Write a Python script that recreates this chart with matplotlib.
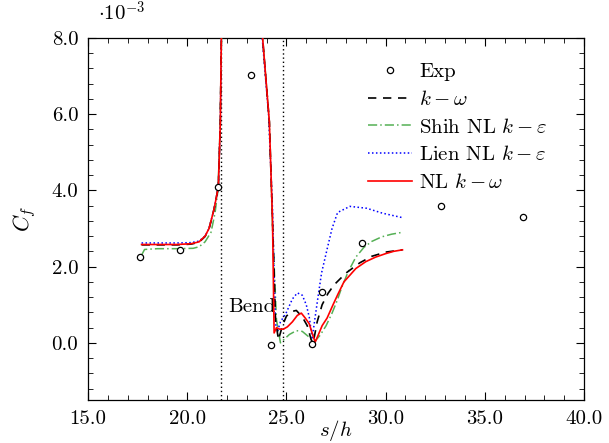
import matplotlib
matplotlib.use("Agg")
import matplotlib.pyplot as plt
from matplotlib.ticker import MultipleLocator, FormatStrFormatter

plt.rcParams["font.family"] = "serif"
plt.rcParams["font.serif"] = ["cmr10", "DejaVu Serif"]
plt.rcParams["mathtext.fontset"] = "cm"
plt.rcParams["axes.unicode_minus"] = False

# Skin-friction coefficient along the wall (values in units of 1e-3)
exp_s = [17.63, 19.65, 21.57, 23.23, 24.24, 26.30, 26.80, 28.80, 32.80, 36.90]
exp_cf = [2.25, 2.43, 4.08, 7.03, -0.05, -0.03, 1.33, 2.61, 3.58, 3.29]

kw_s = [17.7, 18.5, 19.5, 20.2, 20.6, 20.9, 21.1, 21.35, 21.5, 21.57, 21.67, 21.72, 21.8,
        22.8, 23.7, 23.8, 24.14, 24.3, 24.45, 24.6, 24.8, 25.0, 25.25, 25.5, 25.8, 26.05,
        26.25, 26.35, 26.55, 26.8, 27.1, 27.4, 28.0, 28.7, 29.3, 30.0, 30.85]
kw_cf = [2.57, 2.57, 2.57, 2.59, 2.64, 2.79, 2.99, 3.5, 3.9, 4.1, 5.8, 8.0, 10.5,
         12.0, 9.0, 8.0, 5.8, 3.2, 0.6, 0.08, 0.45, 0.7, 0.82, 0.85, 0.68, 0.45,
         0.08, 0.0, 0.55, 1.0, 1.3, 1.52, 1.83, 2.1, 2.27, 2.38, 2.44]

shih_s = [17.7, 17.85, 18.5, 19.5, 20.3, 20.6, 20.9, 21.2, 21.4, 21.55, 21.65, 21.73, 21.82,
          22.8, 23.7, 23.8, 24.14, 24.3, 24.5, 24.7, 24.9, 25.15, 25.5, 25.8, 26.1, 26.4,
          26.7, 27.0, 27.3, 27.55, 27.8, 28.1, 28.5, 28.9, 29.3, 29.8, 30.3, 30.85]
shih_cf = [2.3, 2.45, 2.47, 2.47, 2.48, 2.52, 2.65, 2.9, 3.4, 4.0, 5.5, 8.0, 10.5,
           12.0, 9.0, 8.0, 5.8, 3.0, 0.6, 0.0, 0.1, 0.22, 0.32, 0.3, 0.17, 0.02,
           0.2, 0.45, 0.78, 1.1, 1.47, 1.85, 2.25, 2.5, 2.66, 2.78, 2.85, 2.9]

lien_s = [17.7, 18.5, 19.5, 20.2, 20.6, 20.9, 21.1, 21.35, 21.5, 21.57, 21.67, 21.72, 21.8,
          22.8, 23.65, 23.78, 24.1, 24.3, 24.45, 24.55, 24.7, 25.0, 25.3, 25.55, 25.8,
          26.0, 26.15, 26.3, 26.55, 26.77, 27.07, 27.3, 27.58, 28.2, 29.05, 29.85, 30.8]
lien_cf = [2.62, 2.62, 2.62, 2.63, 2.67, 2.8, 3.0, 3.5, 3.9, 4.1, 5.8, 8.0, 10.5,
           12.0, 9.0, 8.0, 6.0, 3.5, 0.5, 0.3, 0.55, 0.8, 1.15, 1.31, 1.25,
           1.0, 0.68, 0.13, 1.05, 1.83, 2.5, 3.0, 3.42, 3.58, 3.53, 3.4, 3.29]

nl_s = [17.7, 18.5, 19.5, 20.2, 20.6, 20.9, 21.1, 21.35, 21.5, 21.57, 21.67, 21.72, 21.8,
        22.8, 23.7, 23.8, 24.14, 24.3, 24.38, 24.5, 24.65, 24.85, 25.05, 25.3, 25.55, 25.75,
        25.95, 26.15, 26.3, 26.45, 26.6, 26.8, 27.05, 27.35, 27.6, 27.9, 28.5, 29.0, 29.5,
        30.0, 30.4, 30.85]
nl_cf = [2.58, 2.58, 2.58, 2.6, 2.65, 2.8, 3.0, 3.5, 3.9, 4.1, 5.8, 8.0, 10.5,
         12.0, 9.0, 8.0, 5.8, 3.2, 0.26, 0.4, 0.36, 0.36, 0.42, 0.55, 0.72, 0.78,
         0.65, 0.5, 0.25, 0.02, 0.2, 0.45, 0.65, 1.0, 1.28, 1.6, 1.95, 2.13, 2.25,
         2.34, 2.4, 2.44]

bend_lines = [21.72, 24.85]

fig = plt.figure(figsize=(6.09, 4.43), dpi=100)
ax = fig.add_axes([0.1445, 0.097, 0.8145, 0.8175])

green = "#55b055"
ax.plot(exp_s, exp_cf, linestyle="none", marker="o", markersize=4.5,
        markerfacecolor="white", markeredgecolor="black", markeredgewidth=0.9,
        label="Exp", zorder=6)
ax.plot(kw_s, kw_cf, color="black", linestyle=(0, (5, 4)), lw=1.2, label=r"$k-\omega$", zorder=4)
ax.plot(shih_s, shih_cf, color=green, linestyle=(0, (6, 2, 1, 2)), lw=1.1,
        label=r"Shih NL $k-\varepsilon$", zorder=3)
ax.plot(lien_s, lien_cf, color="blue", linestyle=(0, (1, 1.6)), lw=1.1,
        label=r"Lien NL $k-\varepsilon$", zorder=3)
ax.plot(nl_s, nl_cf, color="red", linestyle="-", lw=1.2, label=r"NL $k-\omega$", zorder=5)

for xb in bend_lines:
    ax.axvline(xb, color="black", linestyle=(0, (1, 2)), lw=1.0, zorder=2)
ax.text(24.45, 0.94, "Bend", ha="right", va="center", fontsize=15)

ax.set_xlim(15, 40)
ax.set_ylim(-1.5, 8.0)
ax.xaxis.set_major_locator(MultipleLocator(5))
ax.xaxis.set_minor_locator(MultipleLocator(1))
ax.yaxis.set_major_locator(MultipleLocator(2))
ax.yaxis.set_minor_locator(MultipleLocator(0.4))
ax.xaxis.set_major_formatter(FormatStrFormatter("%.1f"))
ax.yaxis.set_major_formatter(FormatStrFormatter("%.1f"))
ax.tick_params(which="both", direction="in", top=True, right=True, labelsize=15)
ax.tick_params(which="major", length=6, width=0.8, pad=7)
ax.tick_params(which="minor", length=3.5, width=0.6)
for sp in ax.spines.values():
    sp.set_linewidth(0.9)

ax.set_xlabel(r"$s/h$", fontsize=15)
ax.xaxis.set_label_coords(0.5, -0.05)
ax.set_ylabel(r"$C_f$", fontsize=16)
ax.yaxis.set_label_coords(-0.10, 0.5)
ax.text(0.02, 1.035, r"$\cdot 10^{-3}$", transform=ax.transAxes, ha="left",
        va="bottom", fontsize=15)

ax.legend(loc="upper left", bbox_to_anchor=(0.565, 0.932), frameon=False,
          fontsize=15, handlelength=2.1, handletextpad=0.35, labelspacing=0.42,
          borderpad=0, borderaxespad=0)

fig.savefig("out.png", dpi=100)
